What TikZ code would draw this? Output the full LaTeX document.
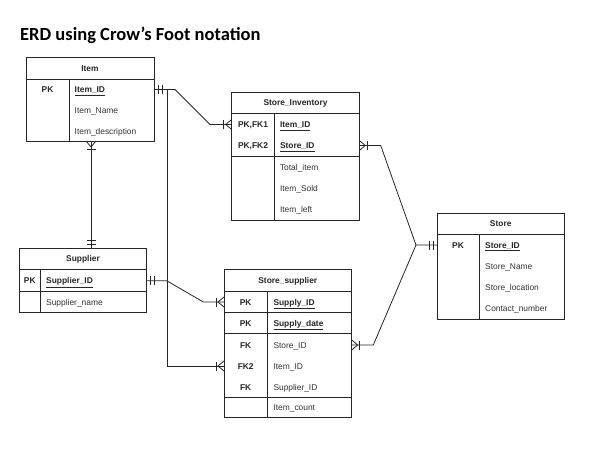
\documentclass[tikz,border=0pt]{standalone}
\usepackage{fontspec}
\setmainfont{Liberation Sans}
\newfontfamily\titlefont{Carlito}
\begin{document}
\begin{tikzpicture}[x=1pt,y=-1pt,
  tbl/.style={draw=black!85, line width=0.8pt, inner sep=0pt, outer sep=0pt, anchor=north west},
  ln/.style={draw=black!85, line width=0.8pt},
  conn/.style={draw=black!85, line width=0.8pt},
  hdr/.style={font=\fontsize{8.4}{10}\selectfont\bfseries, text=black!85, inner sep=0pt, text height=6pt, text depth=0pt},
  keyc/.style={font=\fontsize{8.4}{10}\selectfont\bfseries, text=black!85, inner sep=0pt, text height=6pt, text depth=0pt},
  attr/.style={font=\fontsize{8.4}{10}\selectfont, text=black!80, anchor=west, inner sep=0pt, text height=6pt, text depth=0pt},
  pattr/.style={font=\fontsize{8.4}{10}\selectfont\bfseries, text=black!85, anchor=west, inner sep=0pt, text height=6pt, text depth=0pt},
  manyone/.pic={\draw[conn] (0,-5) -- (6,0) -- (0,5); \draw[conn] (8,-4.5) -- (8,4.5);},
  oneone/.pic={\draw[conn] (4,-4.5) -- (4,4.5) (8,-4.5) -- (8,4.5);}
]
\useasboundingbox (0,0) rectangle (592,452);
\fill[white] (0,0) rectangle (592,452);

% title
\node[anchor=base west, inner sep=0pt, font=\titlefont\bfseries\fontsize{18.5}{22}\selectfont] (title) at (20,41) {ERD using Crow’s Foot notation};

% ---------- Item ----------
\node[tbl, minimum width=128pt, minimum height=84pt] (item) at (26,57) {};
\draw[ln] (26,79) -- (154,79);
\draw[ln] (69,79) -- (69,141);
\node[hdr] (itemT) at (90,68) {Item};
\node[keyc] (itemK1) at (47.5,89.5) {PK};
\node[pattr] (itemA1) at (74.5,89.5) {\underline{Item\_ID}};
\node[attr] (itemA2) at (74.5,110.5) {Item\_Name};
\node[attr] (itemA3) at (74.5,131) {Item\_description};

% ---------- Store_Inventory ----------
\node[tbl, minimum width=127.6pt, minimum height=127.3pt] (si) at (231.7,92.7) {};
\draw[ln] (231.7,113.5) -- (359.3,113.5);
\draw[ln] (231.7,156) -- (359.3,156);
\draw[ln] (274.3,113.5) -- (274.3,220);
\node[hdr] (siT) at (295.5,103) {Store\_Inventory};
\node[keyc] (siK1) at (253,124.5) {PK,FK1};
\node[keyc] (siK2) at (253,145.5) {PK,FK2};
\node[pattr] (siA1) at (279.8,124.5) {\underline{Item\_ID}};
\node[pattr] (siA2) at (279.8,145.5) {\underline{Store\_ID}};
\node[attr] (siA3) at (279.8,167) {Total\_item};
\node[attr] (siA4) at (279.8,188.5) {Item\_Sold};
\node[attr] (siA5) at (279.8,209) {Item\_left};

% ---------- Store ----------
\node[tbl, minimum width=127.3pt, minimum height=106pt] (st) at (437,213.3) {};
\draw[ln] (437,234.3) -- (564.3,234.3);
\draw[ln] (479.3,234.3) -- (479.3,319.3);
\node[hdr] (stT) at (500.7,223.8) {Store};
\node[keyc] (stK1) at (458,245) {PK};
\node[pattr] (stA1) at (485,245) {\underline{Store\_ID}};
\node[attr] (stA2) at (485,266.3) {Store\_Name};
\node[attr] (stA3) at (485,287.3) {Store\_location};
\node[attr] (stA4) at (485,308.5) {Contact\_number};

% ---------- Supplier ----------
\node[tbl, minimum width=127.4pt, minimum height=64pt] (sup) at (19.3,248.3) {};
\draw[ln] (19.3,269.3) -- (146.7,269.3);
\draw[ln] (19.3,291) -- (146.7,291);
\draw[ln] (40.3,269.3) -- (40.3,312.3);
\node[hdr] (supT) at (83,258.8) {Supplier};
\node[keyc] (supK1) at (29.8,280.7) {PK};
\node[pattr] (supA1) at (46,280.7) {\underline{Supplier\_ID}};
\node[attr] (supA2) at (46,302) {Supplier\_name};

% ---------- Store_supplier ----------
\node[tbl, minimum width=127.7pt, minimum height=148pt] (ss) at (224,269.3) {};
\draw[ln] (224,291.7) -- (351.7,291.7);
\draw[ln] (224,312.3) -- (351.7,312.3);
\draw[ln] (224,333.7) -- (351.7,333.7);
\draw[ln] (224,397.3) -- (351.7,397.3);
\draw[ln] (267.3,291.7) -- (267.3,417.3);
\node[hdr] (ssT) at (287.8,280.5) {Store\_supplier};
\node[keyc] (ssK1) at (245.7,302) {PK};
\node[keyc] (ssK2) at (245.7,323) {PK};
\node[keyc] (ssK3) at (245.7,345) {FK};
\node[keyc] (ssK4) at (245.7,366) {FK2};
\node[keyc] (ssK5) at (245.7,387.3) {FK};
\node[pattr] (ssA1) at (273.3,302) {\underline{Supply\_ID}};
\node[pattr] (ssA2) at (273.3,323) {\underline{Supply\_date}};
\node[attr] (ssA3) at (273.3,345) {Store\_ID};
\node[attr] (ssA4) at (273.3,366) {Item\_ID};
\node[attr] (ssA5) at (273.3,387.3) {Supplier\_ID};
\node[attr] (ssA6) at (273.3,407.7) {Item\_count};

% ---------- attachment points ----------
\coordinate (itemR) at (item.east |- itemA1);
\coordinate (itemB) at (91,141);
\coordinate (siL) at (si.west |- siA1);
\coordinate (siR) at (si.east |- siA2);
\coordinate (stL) at (st.west |- stA1);
\coordinate (supT0) at (91,248.3);
\coordinate (supR) at (sup.east |- supA1);
\coordinate (ssL1) at (ss.west |- ssA1);
\coordinate (ssL2) at (ss.west |- ssA4);
\coordinate (ssR) at (ss.east |- ssA3);
\coordinate (j1) at (167.7,89.5);
\coordinate (j2) at (416,245);

% ---------- connectors ----------
\draw[conn] (itemR) -- (j1) -- (175,89.5) -- (210,124.5) -- (siL);
\draw[conn] (j1) -- (167.7,366) -- (ssL2);
\draw[conn] (itemB) -- (supT0);
\draw[conn] (supR) -- (166.7,280.7) -- (203.3,302) -- (ssL1);
\draw[conn] (siR) -- (380.7,145.5) -- (j2) -- (stL);
\draw[conn] (ssR) -- (373.3,345) -- (j2);

% ---------- markers ----------
\pic at (itemR) {oneone};
\pic[rotate=180] at (siL) {manyone};
\pic[rotate=180] at (ssL2) {manyone};
\pic[rotate=-90] at (itemB) {manyone};
\pic[rotate=90] at (supT0) {oneone};
\pic at (supR) {oneone};
\pic[rotate=180] at (ssL1) {manyone};
\pic at (siR) {manyone};
\pic at (ssR) {manyone};
\pic[rotate=180] at (stL) {oneone};
\end{tikzpicture}
\end{document}
